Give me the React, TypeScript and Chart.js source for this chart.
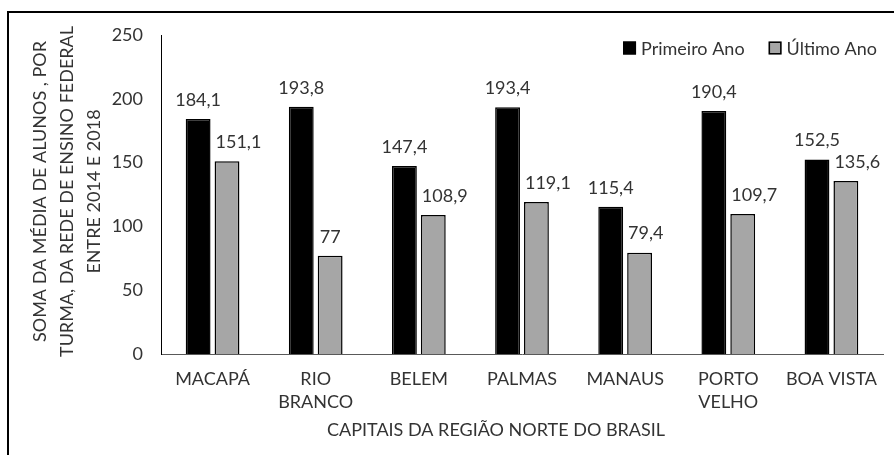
import React, { useEffect, useRef } from "react";
import { Chart, registerables } from "chart.js";

Chart.register(...registerables);

const categories: string[][] = [
  ["MACAPÁ"],
  ["RIO", "BRANCO"],
  ["BELEM"],
  ["PALMAS"],
  ["MANAUS"],
  ["PORTO", "VELHO"],
  ["BOA VISTA"],
];
const primeiroAno = [184.1, 193.8, 147.4, 193.4, 115.4, 190.4, 152.5];
const ultimoAno = [151.1, 77, 108.9, 119.1, 79.4, 109.7, 135.6];
const seriesNames = ["Primeiro Ano", "Último Ano"];
const yTitleLines = [
  "SOMA DA MÉDIA DE ALUNOS , POR",
  "TURMA, DA REDE DE ENSINO FEDERAL",
  "ENTRE 2014 E 2018",
];
const xTitle = "CAPITAIS DA REGIÃO NORTE DO BRASIL";

const FONT = "Lato";
const TEXT = "#333333";
const GRAY = "#a6a6a6";

const fmt = (v: number) => String(v).replace(".", ",");

const overlayPlugin = {
  id: "overlay",
  afterDraw(chart: any) {
    const ctx = chart.ctx as CanvasRenderingContext2D;
    const area = chart.chartArea;
    ctx.save();
    ctx.fillStyle = TEXT;
    ctx.font = `18px ${FONT}`;
    ctx.textAlign = "center";
    ctx.textBaseline = "middle";
    // data labels (second series nudged right to clear the neighbouring bar)
    const m0 = chart.getDatasetMeta(0);
    chart.data.datasets.forEach((ds: any, i: number) => {
      const meta = chart.getDatasetMeta(i);
      meta.data.forEach((bar: any, j: number) => {
        const txt = fmt(ds.data[j]);
        let cx = bar.x;
        const ly = bar.y - 19;
        if (i === 1) {
          const w = ctx.measureText(txt).width;
          const nb = m0.data[j];
          const nbRight = nb.x + nb.width / 2;
          if (ly + 8 > nb.y && cx - w / 2 < nbRight + 5) {
            cx = nbRight + 5 + w / 2;
          }
        }
        ctx.fillText(txt, cx, ly);
      });
    });
    // x title
    ctx.fillText(xTitle, area.left + (area.right - area.left) / 2 - 26, chart.height - 25);
    // y title
    const cy = (area.top + area.bottom) / 2 - 3;
    ctx.save();
    ctx.translate(0, cy);
    ctx.rotate(-Math.PI / 2);
    yTitleLines.forEach((line, k) => {
      ctx.fillText(line, 0, 31 + k * 27);
    });
    ctx.restore();
    // legend
    const colors = [
      chart.data.datasets[0].backgroundColor,
      chart.data.datasets[1].backgroundColor,
    ];
    const ly = area.top + 13;
    const w2 = ctx.measureText(seriesNames[1]).width;
    const w1 = ctx.measureText(seriesNames[0]).width;
    const x2 = area.right - 6 - w2 - 18;
    const x1 = x2 - 24 - w1 - 18;
    const xs = [x1, x2];
    ctx.textAlign = "left";
    seriesNames.forEach((name, k) => {
      ctx.fillStyle = colors[k];
      ctx.fillRect(xs[k], ly - 6.5, 13, 13);
      ctx.strokeStyle = "#000";
      ctx.lineWidth = 1.5;
      ctx.strokeRect(xs[k] + 0.75, ly - 5.75, 11.5, 11.5);
      ctx.fillStyle = TEXT;
      ctx.fillText(name, xs[k] + 18, ly + 1);
    });
    ctx.restore();
  },
};

export default function App() {
  const ref = useRef<HTMLCanvasElement>(null);
  useEffect(() => {
    const chart = new Chart(ref.current!, {
      type: "bar",
      data: {
        labels: categories,
        datasets: [
          {
            label: seriesNames[0],
            data: primeiroAno,
            backgroundColor: "#000000",
            borderColor: "#000000",
            borderWidth: 1.5,
            categoryPercentage: 0.56,
            barPercentage: 0.86,
          },
          {
            label: seriesNames[1],
            data: ultimoAno,
            backgroundColor: GRAY,
            borderColor: "#000000",
            borderWidth: 1.5,
            categoryPercentage: 0.56,
            barPercentage: 0.86,
          },
        ],
      },
      options: {
        animation: false,
        responsive: false,
        maintainAspectRatio: false,
        layout: { padding: { top: 22, right: 11, left: 0, bottom: 0 } },
        plugins: {
          legend: { display: false },
          tooltip: { enabled: false },
        },
        scales: {
          x: {
            grid: { display: false, drawTicks: false },
            border: { display: true, color: "#595959", width: 1 },
            ticks: {
              color: TEXT,
              font: { family: FONT, size: 18, lineHeight: 1.25 },
              padding: 14,
              maxRotation: 0,
              autoSkip: false,
            },
            afterFit: (s: any) => {
              s.height = 101;
              s.paddingLeft = 0;
              s.paddingRight = 0;
            },
          },
          y: {
            min: 0,
            max: 250,
            grid: { display: false, drawTicks: false },
            border: { display: true, color: "#000000", width: 1 },
            ticks: {
              stepSize: 50,
              color: TEXT,
              font: { family: FONT, size: 18 },
              padding: 18,
            },
            afterFit: (s: any) => {
              s.width = 152;
              s.paddingTop = 0;
              s.paddingBottom = 0;
            },
          },
        },
      },
      plugins: [overlayPlugin],
    });
    return () => chart.destroy();
  }, []);
  return (
    <div
      style={{
        position: "absolute",
        left: 7,
        top: 11,
        borderTop: "2px solid #000",
        borderLeft: "2px solid #000",
        width: 885,
        height: 444,
        background: "#fff",
      }}
    >
      <canvas ref={ref} width={885} height={442} style={{ display: "block" }} />
    </div>
  );
}
